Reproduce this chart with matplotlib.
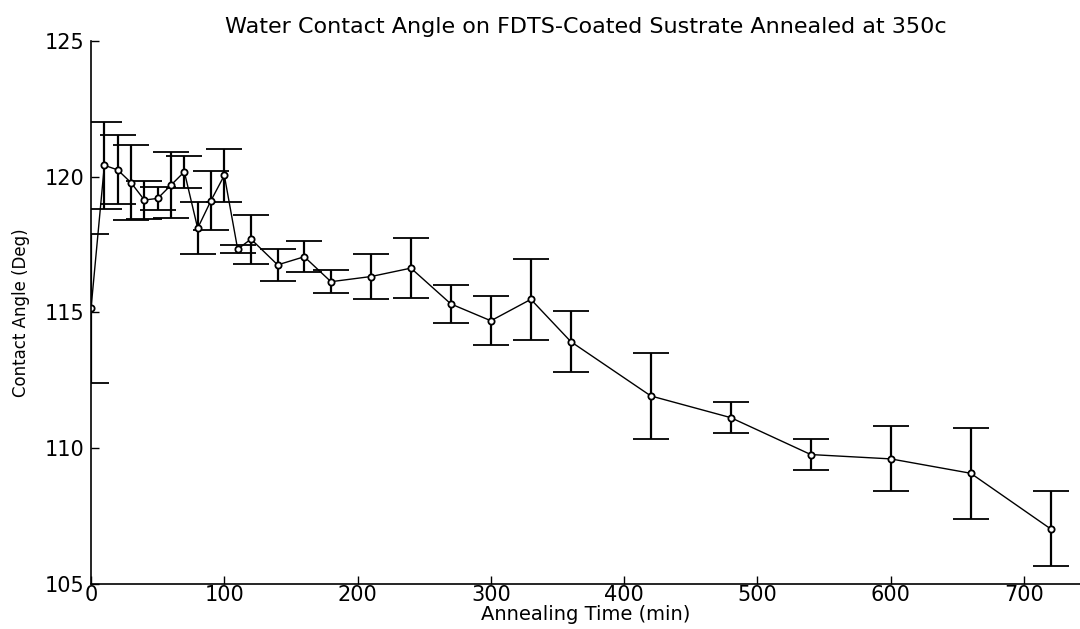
import numpy as np
import matplotlib
matplotlib.use("Agg")
import matplotlib.pyplot as plt

# annealing time (min) and contact angle (deg)
time_min = [0, 10, 20, 30, 40, 50, 60, 70, 80, 90, 100, 110, 120, 140, 160,
            180, 210, 240, 270, 300, 330, 360, 420, 480, 540, 600, 660, 720]
angle = [115.15, 120.42, 120.25, 119.78, 119.14, 119.2, 119.69, 120.18,
         118.1, 119.12, 120.05, 117.33, 117.7, 116.75, 117.05, 116.13,
         116.32, 116.63, 115.31, 114.69, 115.48, 113.92, 111.92, 111.12,
         109.76, 109.6, 109.07, 107.02]
angle_err = [2.75, 1.6, 1.27, 1.37, 0.7, 0.43, 1.23, 0.6, 0.96, 1.08, 0.97,
             0.14, 0.9, 0.6, 0.58, 0.42, 0.84, 1.1, 0.69, 0.9, 1.5, 1.13,
             1.6, 0.57, 0.56, 1.2, 1.67, 1.38]

xticks = [0, 100, 200, 300, 400, 500, 600, 700]
yticks = [105, 110, 115, 120, 125]

fig = plt.figure(figsize=(10.8, 6.29), dpi=100)
ax = fig.add_axes([0.0843, 0.072, 0.9157, 0.8628])

ax.errorbar(time_min, angle, yerr=angle_err, color="black", lw=1.0,
            elinewidth=1.6, capsize=13, capthick=1.6,
            marker="o", markersize=4.5, mfc="white", mec="black", mew=1.3)

ax.set_xlim(0, 742)
ax.set_ylim(105, 125)
ax.set_xticks(xticks)
ax.set_yticks(yticks)
ax.tick_params(direction="in", length=6, width=1, labelsize=15)
ax.tick_params(axis="x", pad=1)
ax.tick_params(axis="y", pad=5)
for s in ["top", "right"]:
    ax.spines[s].set_visible(False)
for s in ["left", "bottom"]:
    ax.spines[s].set_linewidth(1.2)

ax.set_title("Water Contact Angle on FDTS-Coated Sustrate Annealed at 350c",
             fontsize=16, pad=6)
ax.set_xlabel("Annealing Time (min)", fontsize=14, labelpad=0)
ax.set_ylabel("Contact Angle (Deg)", fontsize=12,
              family=["Liberation Sans Narrow", "DejaVu Sans"], labelpad=10)

fig.savefig("out.png", dpi=100)
